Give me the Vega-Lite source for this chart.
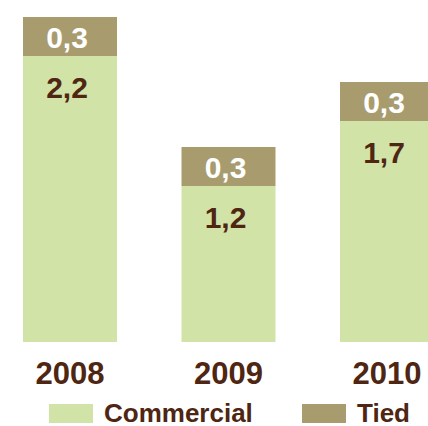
{
  "$schema": "https://vega.github.io/schema/vega-lite/v6.json",
  "autosize": "none",
  "width": 428,
  "height": 342,
  "padding": {"left": 0, "top": 0, "right": 0, "bottom": 84},
  "background": "white",
  "config": {"view": {"stroke": null}, "font": "Liberation Sans"},
  "data": {
    "values": [
      {"year": "2008", "type": "Commercial", "order": 1, "value": 2.2, "label": "2,2"},
      {"year": "2008", "type": "Tied", "order": 2, "value": 0.3, "label": "0,3"},
      {"year": "2009", "type": "Commercial", "order": 1, "value": 1.2, "label": "1,2"},
      {"year": "2009", "type": "Tied", "order": 2, "value": 0.3, "label": "0,3"},
      {"year": "2010", "type": "Commercial", "order": 1, "value": 1.7, "label": "1,7"},
      {"year": "2010", "type": "Tied", "order": 2, "value": 0.3, "label": "0,3"}
    ]
  },
  "transform": [
    {"stack": "value", "groupby": ["year"], "sort": [{"field": "order", "order": "ascending"}], "as": ["v0", "v1"]}
  ],
  "encoding": {
    "x": {
      "field": "year", "type": "nominal",
      "scale": {"range": [23, 434], "paddingInner": 0.407, "paddingOuter": 0},
      "axis": {
        "title": null, "domain": false, "ticks": false, "grid": false, "labelAngle": 0,
        "labelFont": "Liberation Sans", "labelFontWeight": "bold", "labelFontSize": 31,
        "labelColor": "#4E2612", "labelPadding": 17, "labelBaseline": "top"
      }
    }
  },
  "layer": [
    {
      "mark": {"type": "bar", "stroke": null},
      "encoding": {
        "y": {"field": "v0", "type": "quantitative", "scale": {"domain": [0, 2.631], "nice": false}, "axis": null},
        "y2": {"field": "v1"},
        "color": {
          "field": "type", "type": "nominal",
          "scale": {"domain": ["Commercial", "Tied"], "range": ["#D2E3A8", "#A89C6E"]},
          "legend": {
            "title": null, "orient": "none", "direction": "horizontal",
            "legendX": 49, "legendY": 391.5, "padding": 0,
            "symbolType": "M-1,-0.43L1,-0.43L1,0.43L-1,0.43Z", "symbolSize": 1936,
            "symbolStrokeWidth": 0, "symbolOpacity": 1,
            "labelFont": "Liberation Sans", "labelFontWeight": "bold", "labelFontSize": 26,
            "labelColor": "#4E2612", "labelOffset": 11, "columnPadding": 49, "labelLimit": 300
          }
        }
      }
    },
    {
      "transform": [{"filter": "datum.type === 'Commercial'"}],
      "mark": {"type": "text", "baseline": "top", "dy": 18, "dx": -3, "fontSize": 30, "fontWeight": "bold", "color": "#4E2612", "font": "Liberation Sans"},
      "encoding": {
        "y": {"field": "v1", "type": "quantitative"},
        "text": {"field": "label"}
      }
    },
    {
      "transform": [{"filter": "datum.type === 'Tied'"}],
      "mark": {"type": "text", "baseline": "top", "dy": 7, "dx": -3, "fontSize": 30, "fontWeight": "bold", "color": "#FFFFFF", "font": "Liberation Sans"},
      "encoding": {
        "y": {"field": "v1", "type": "quantitative"},
        "text": {"field": "label"}
      }
    }
  ]
}
